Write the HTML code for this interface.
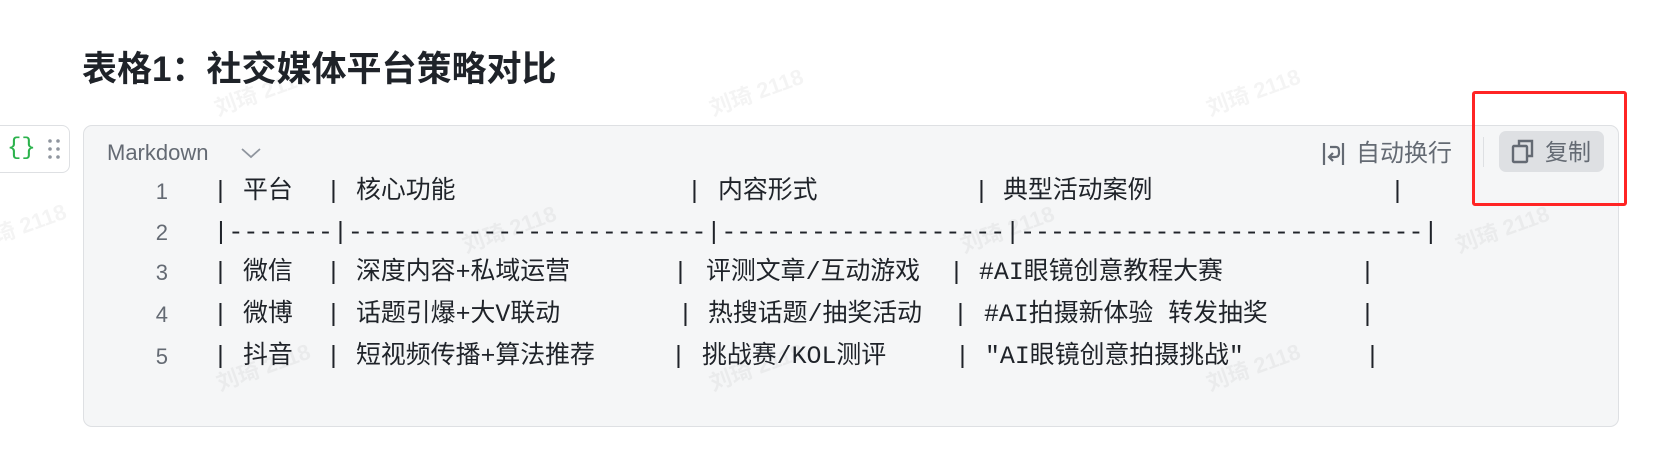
<!DOCTYPE html>
<html><head><meta charset="utf-8">
<style>
*{margin:0;padding:0;box-sizing:border-box}
body{width:1677px;height:472px;background:#fff;position:relative;overflow:hidden;font-family:"Liberation Sans","Noto Sans CJK SC",sans-serif}
.a{position:absolute;white-space:pre}
.title{left:82px;top:48px;font-size:35px;font-weight:bold;color:#1f2329;line-height:44px}
.box{left:83px;top:125px;width:1536px;height:302px;background:#f5f6f7;border:1px solid #dee0e3;border-radius:9px}
.lb{left:-10px;top:125px;width:80px;height:48px;border:1px solid #dee0e3;border-radius:8px;background:#fff}
.c{font-family:"Liberation Mono","Noto Sans CJK SC",monospace;font-size:24.9px;line-height:40px;color:#1f2329}
.n{font-family:"Liberation Sans",sans-serif;font-size:22px;line-height:40px;color:#646a73;width:30px;text-align:right}
.wm{position:absolute;font-size:22px;font-weight:bold;color:rgba(0,0,0,0.045);transform:rotate(-20deg);white-space:nowrap;font-family:"Liberation Sans","Noto Sans CJK SC",sans-serif}
</style></head><body>
<div class="a title">表格1：社交媒体平台策略对比</div>
<div class="a lb"></div>
<div class="a" style="left:7px;top:131px;font-family:'Liberation Mono',monospace;font-size:24px;color:#2bb24c;line-height:36px">{}</div>
<svg class="a" style="left:45px;top:137px" width="18" height="24"><g fill="#8f959e"><circle cx="5" cy="4" r="1.8"/><circle cx="13" cy="4" r="1.8"/><circle cx="5" cy="12" r="1.8"/><circle cx="13" cy="12" r="1.8"/><circle cx="5" cy="20" r="1.8"/><circle cx="13" cy="20" r="1.8"/></g></svg>
<div class="a box"></div>
<div class="a" style="left:107px;top:139px;font-size:22px;color:#646a73;line-height:28px">Markdown</div>
<svg class="a" style="left:240px;top:146px" width="22" height="14"><path d="M2 3 L11 11 L20 3" stroke="#8f959e" stroke-width="1.8" fill="none"/></svg>

<svg class="a" style="left:1321px;top:141px" width="26" height="26"><g stroke="#646a73" stroke-width="2.2" fill="none"><line x1="3" y1="2" x2="3" y2="24"/><line x1="22" y1="2" x2="22" y2="24"/><path d="M9 6 H15 Q18 6 18 10 V12 Q18 16 14 16 H9"/><path d="M12 12 L8 16 L12 20"/></g></svg>
<div class="a" style="left:1356px;top:139px;font-size:24px;color:#646a73;line-height:30px">自动换行</div>
<div class="a" style="left:1483px;top:137px;width:1px;height:30px;background:#dee0e3"></div>
<div class="a" style="left:1499px;top:131px;width:105px;height:41px;background:#dee0e3;border-radius:7px"></div>
<svg class="a" style="left:1511px;top:139px" width="26" height="26"><g stroke="#646a73" stroke-width="2.4" fill="none"><rect x="2" y="7" width="14" height="16" rx="1"/><path d="M8 7 V2 H21 V17 H16"/></g></svg>
<div class="a" style="left:1545px;top:137px;font-size:23px;color:#646a73;line-height:30px">复制</div>
<div class="a" style="left:1472px;top:91px;width:155px;height:115px;border:3.5px solid #ff2424;border-radius:3px"></div>

<!-- line numbers -->
<div class="a n" style="left:138px;top:172px">1</div>
<div class="a n" style="left:138px;top:213px">2</div>
<div class="a n" style="left:138px;top:253px">3</div>
<div class="a n" style="left:138px;top:295px">4</div>
<div class="a n" style="left:138px;top:337px">5</div>

<!-- row1 -->
<div class="a c" style="left:213px;top:172px">|</div>
<div class="a c" style="left:243px;top:172px">平台</div>
<div class="a c" style="left:326px;top:172px">|</div>
<div class="a c" style="left:356px;top:172px">核心功能</div>
<div class="a c" style="left:687px;top:172px">|</div>
<div class="a c" style="left:718px;top:172px">内容形式</div>
<div class="a c" style="left:974px;top:172px">|</div>
<div class="a c" style="left:1003px;top:172px">典型活动案例</div>
<div class="a c" style="left:1390px;top:172px">|</div>
<!-- row2 -->
<div class="a c" style="left:213.5px;top:213px">|-------|------------------------|-------------------|---------------------------|</div>
<!-- row3 -->
<div class="a c" style="left:213px;top:253px">|</div>
<div class="a c" style="left:243px;top:253px">微信</div>
<div class="a c" style="left:326px;top:253px">|</div>
<div class="a c" style="left:356px;top:253px">深度内容+私域运营</div>
<div class="a c" style="left:673px;top:253px">|</div>
<div class="a c" style="left:706px;top:253px">评测文章/互动游戏</div>
<div class="a c" style="left:949px;top:253px">|</div>
<div class="a c" style="left:979px;top:253px">#AI眼镜创意教程大赛</div>
<div class="a c" style="left:1360px;top:253px">|</div>
<!-- row4 -->
<div class="a c" style="left:213px;top:295px">|</div>
<div class="a c" style="left:243px;top:295px">微博</div>
<div class="a c" style="left:326px;top:295px">|</div>
<div class="a c" style="left:356px;top:295px">话题引爆+大V联动</div>
<div class="a c" style="left:678px;top:295px">|</div>
<div class="a c" style="left:708px;top:295px">热搜话题/抽奖活动</div>
<div class="a c" style="left:953px;top:295px">|</div>
<div class="a c" style="left:984px;top:295px">#AI拍摄新体验 转发抽奖</div>
<div class="a c" style="left:1360px;top:295px">|</div>
<!-- row5 -->
<div class="a c" style="left:213px;top:337px">|</div>
<div class="a c" style="left:243px;top:337px">抖音</div>
<div class="a c" style="left:326px;top:337px">|</div>
<div class="a c" style="left:356px;top:337px">短视频传播+算法推荐</div>
<div class="a c" style="left:671px;top:337px">|</div>
<div class="a c" style="left:702px;top:337px">挑战赛/KOL测评</div>
<div class="a c" style="left:955px;top:337px">|</div>
<div class="a c" style="left:985px;top:337px">"AI眼镜创意拍摄挑战"</div>
<div class="a c" style="left:1365px;top:337px">|</div>

<!-- watermarks -->
<div class="wm" style="left:212px;top:75px">刘琦 2118</div>
<div class="wm" style="left:707px;top:75px">刘琦 2118</div>
<div class="wm" style="left:1204px;top:75px">刘琦 2118</div>
<div class="wm" style="left:-30px;top:210px">刘琦 2118</div>
<div class="wm" style="left:460px;top:212px">刘琦 2118</div>
<div class="wm" style="left:958px;top:212px">刘琦 2118</div>
<div class="wm" style="left:1453px;top:212px">刘琦 2118</div>
<div class="wm" style="left:214px;top:350px">刘琦 2118</div>
<div class="wm" style="left:707px;top:350px">刘琦 2118</div>
<div class="wm" style="left:1204px;top:350px">刘琦 2118</div>
</body></html>
